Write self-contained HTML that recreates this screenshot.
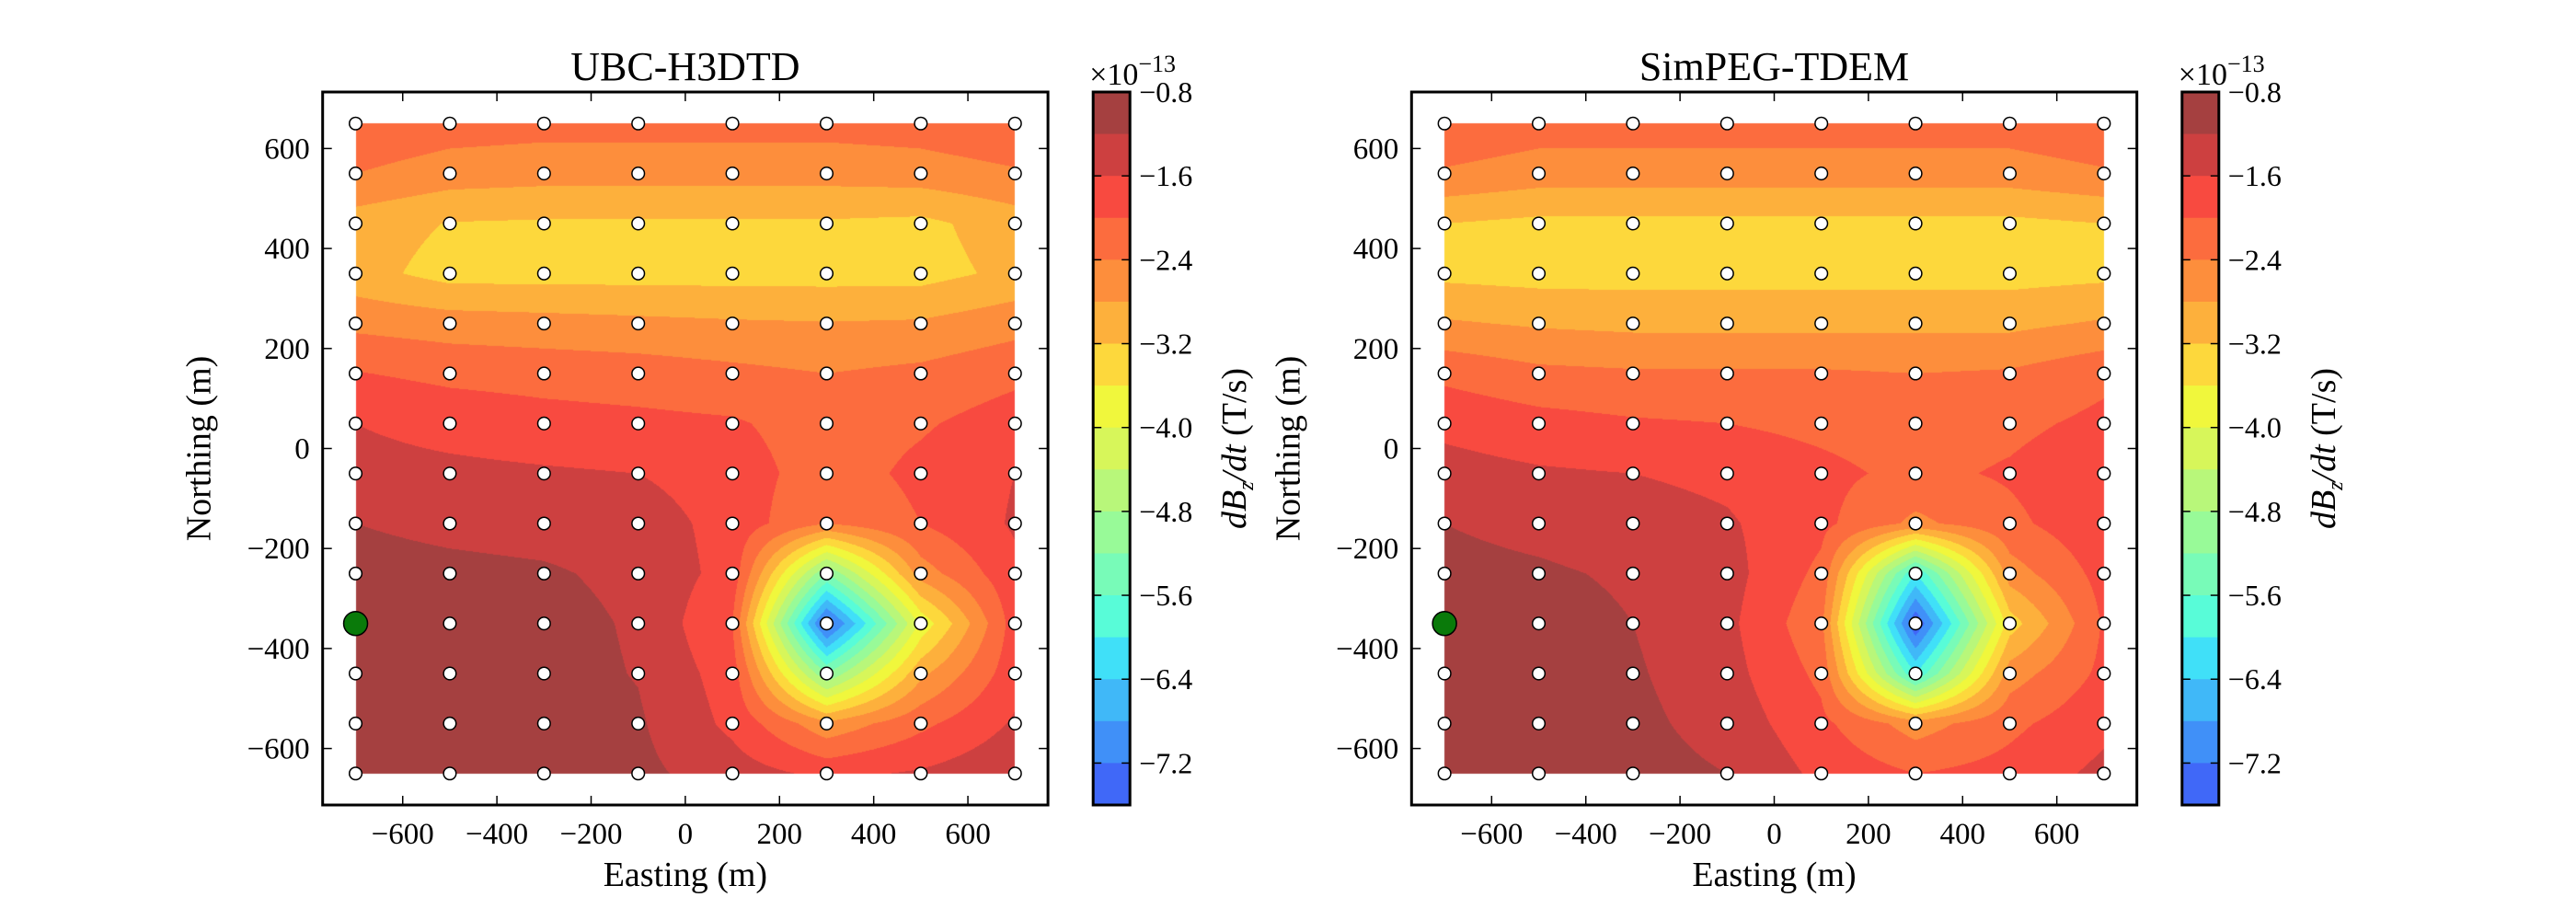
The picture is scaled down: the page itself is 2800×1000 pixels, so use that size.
<!DOCTYPE html>
<html><head><meta charset="utf-8"><style>
html,body{margin:0;padding:0;background:#fff;width:2800px;height:1000px;overflow:hidden}
#cv{position:absolute;left:0;top:0}
#ov{position:absolute;left:0;top:0}
text{font-family:"Liberation Serif",serif;fill:#000}
</style></head><body>
<canvas id="cv" width="2800" height="1000"></canvas>
<svg id="ov" width="2800" height="1000" xmlns="http://www.w3.org/2000/svg"></svg>
<script>
const xCats=[-700,-500,-300,-100,100,300,500,700];
const yCats=[650,550,450,350,250,150,50,-50,-150,-250,-350,-450,-550,-650];
const ubcValues=[
[-2.05,-2.2,-2.25,-2.25,-2.25,-2.25,-2.2,-2.05],
[-2.4,-2.6,-2.65,-2.65,-2.65,-2.65,-2.6,-2.45],
[-3.0,-3.22,-3.25,-3.25,-3.25,-3.25,-3.3,-3.0],
[-3.05,-3.35,-3.35,-3.35,-3.35,-3.35,-3.35,-3.1],
[-2.5,-2.6,-2.65,-2.7,-2.75,-2.78,-2.75,-2.55],
[-1.98,-2.1,-2.15,-2.2,-2.3,-2.4,-2.3,-2.1],
[-1.6,-1.75,-1.85,-1.9,-1.95,-2.2,-2.05,-1.8],
[-1.45,-1.5,-1.55,-1.6,-1.8,-2.2,-1.9,-1.6],
[-1.2,-1.3,-1.35,-1.4,-1.75,-2.4,-2.0,-1.55],
[-1.05,-1.1,-1.15,-1.3,-1.75,-5.2,-2.6,-1.7],
[-1.0,-1.0,-1.05,-1.25,-2.0,-7.5,-3.9,-1.8],
[-1.0,-1.0,-1.05,-1.22,-1.8,-5.2,-2.9,-1.75],
[-0.95,-0.98,-1.0,-1.15,-1.7,-2.7,-2.1,-1.55],
[-0.95,-0.98,-1.0,-1.1,-1.4,-1.7,-1.55,-1.3]];
const simpegValues=[
[-2.05,-2.2,-2.2,-2.2,-2.2,-2.2,-2.2,-2.05],
[-2.45,-2.6,-2.6,-2.6,-2.6,-2.6,-2.6,-2.45],
[-3.2,-3.3,-3.3,-3.3,-3.3,-3.3,-3.3,-3.2],
[-3.3,-3.35,-3.35,-3.35,-3.35,-3.35,-3.35,-3.3],
[-2.75,-2.85,-2.9,-2.9,-2.9,-2.9,-2.9,-2.75],
[-2.1,-2.3,-2.35,-2.35,-2.35,-2.4,-2.35,-2.1],
[-1.7,-1.85,-1.95,-2.0,-2.1,-2.2,-2.1,-1.9],
[-1.45,-1.55,-1.6,-1.7,-1.9,-2.1,-1.95,-1.7],
[-1.2,-1.3,-1.4,-1.55,-1.9,-2.5,-2.1,-1.7],
[-1.1,-1.15,-1.25,-1.45,-2.1,-6.0,-2.6,-1.85],
[-1.0,-1.05,-1.2,-1.5,-2.3,-7.6,-3.4,-1.95],
[-1.0,-1.05,-1.15,-1.45,-2.1,-6.0,-2.6,-1.9],
[-0.98,-1.02,-1.1,-1.35,-1.9,-2.6,-2.1,-1.7],
[-0.95,-1.0,-1.05,-1.2,-1.7,-2.0,-1.85,-1.5]];
const levels=[-0.8,-1.2,-1.6,-2.0,-2.4,-2.8,-3.2,-3.6,-4.0,-4.4,-4.8,-5.2,-5.6,-6.0,-6.4,-6.8,-7.2,-7.6];
const bandColors=["#a54040","#cd4040","#f84a40","#fc6c3e","#fd8e3c","#fdb03c","#fdd83c","#f0f73c","#d7f65a","#b8f77a","#98fa98","#78fbb8","#58fcd8","#40e0f8","#40b8f8","#4090f8","#4068f8"];
const xTicks=[-600,-400,-200,0,200,400,600];
const yTicks=[600,400,200,0,-200,-400,-600];
const cbTicks=[-0.8,-1.6,-2.4,-3.2,-4.0,-4.8,-5.6,-6.4,-7.2];
const txSrc=[-700], tySrc=[-350];
const panels=[{title:"UBC-H3DTD",vals:ubcValues,x0:350.7,name:"ubc"},{title:"SimPEG-TDEM",vals:simpegValues,x0:1534.3,name:"simpeg"}];

const NS="http://www.w3.org/2000/svg";
const svg=document.getElementById('ov');
const ctx=document.getElementById('cv').getContext('2d');
const TOP=100,H=775,W=788.4,XMIN=-770,XMAX=770,YMIN=-713,YMAX=713;
function mk(tag,attrs,parent){const e=document.createElementNS(NS,tag);for(const k in attrs)e.setAttribute(k,attrs[k]);(parent||svg).appendChild(e);return e;}
function fmt(v){const s=v===0?"0":String(Math.abs(v));return v<0?"\u2212"+s:s;}
function fmt1(v){const s=Math.abs(v).toFixed(1);return v<0?"\u2212"+s:s;}
function hex(c){return [parseInt(c.slice(1,3),16),parseInt(c.slice(3,5),16),parseInt(c.slice(5,7),16)];}
const rgb=bandColors.map(hex);
function interp(vals,x,y){
  let i=0;while(i<xCats.length-2&&x>xCats[i+1])i++;
  let j=0;while(j<yCats.length-2&&y<yCats[j+1])j++;
  const tx=(x-xCats[i])/(xCats[i+1]-xCats[i]),ty=(y-yCats[j])/(yCats[j+1]-yCats[j]);
  const a=vals[j][i],b=vals[j][i+1],c=vals[j+1][i],d=vals[j+1][i+1];
  return a*(1-tx)*(1-ty)+b*tx*(1-ty)+c*(1-tx)*ty+d*tx*ty;
}
panels.forEach((p,pi)=>{
  const xs=v=>p.x0+(v-XMIN)/(XMAX-XMIN)*W;
  const ys=v=>TOP+(YMAX-v)/(YMAX-YMIN)*H;
  const xinv=px=>XMIN+(px-p.x0)/W*(XMAX-XMIN);
  const yinv=py=>YMAX-(py-TOP)/H*(YMAX-YMIN);
  const px0=Math.round(xs(xCats[0])),px1=Math.round(xs(xCats[xCats.length-1]));
  const py0=Math.round(ys(yCats[0])),py1=Math.round(ys(yCats[yCats.length-1]));
  const w=px1-px0,h=py1-py0;
  const img=ctx.createImageData(w,h);
  for(let yy=0;yy<h;yy++){const dy=yinv(py0+yy+0.5);
    for(let xx=0;xx<w;xx++){const dx=xinv(px0+xx+0.5);
      const v=interp(p.vals,dx,dy);
      let k=-1;for(let b=0;b<bandColors.length;b++){if(v<=levels[b]&&v>=levels[b+1]){k=b;break;}}
      const o=(yy*w+xx)*4;
      if(k<0){img.data[o+3]=0;continue;}
      img.data[o]=rgb[k][0];img.data[o+1]=rgb[k][1];img.data[o+2]=rgb[k][2];img.data[o+3]=255;}}
  ctx.putImageData(img,px0,py0);
  const g=mk('g',{});
  
  
  const fr=mk('rect',{x:p.x0,y:TOP,width:W,height:H,fill:'none',stroke:'#000','stroke-width':3},g);
  
  
  xTicks.forEach(t=>{const x=xs(t);
    mk('line',{x1:x,x2:x,y1:TOP,y2:TOP+10,stroke:'#000','stroke-width':1.5},g);
    mk('line',{x1:x,x2:x,y1:TOP+H,y2:TOP+H-10,stroke:'#000','stroke-width':1.5},g);
    const tl=mk('text',{x:x,y:917,'font-size':33,'text-anchor':'middle'},g);tl.textContent=fmt(t);
    
    });
  yTicks.forEach(t=>{const y=ys(t);
    mk('line',{x1:p.x0,x2:p.x0+10,y1:y,y2:y,stroke:'#000','stroke-width':1.5},g);
    mk('line',{x1:p.x0+W,x2:p.x0+W-10,y1:y,y2:y,stroke:'#000','stroke-width':1.5},g);
    const tl=mk('text',{x:p.x0-14,y:y+11,'font-size':33,'text-anchor':'end'},g);tl.textContent=fmt(t);
    
    });
  yCats.forEach(yv=>xCats.forEach(xv=>{
    const c=mk('circle',{cx:xs(xv),cy:ys(yv),r:6.8,fill:'#fff',stroke:'#000','stroke-width':1.5},g);
    
    }));
  txSrc.forEach((sx,i)=>{const c=mk('circle',{cx:xs(sx),cy:ys(tySrc[i]),r:13,fill:'#0a7a0a',stroke:'#000','stroke-width':1.5},g);
    
    });
  const t=mk('text',{x:p.x0+W/2,y:87,'font-size':44,'text-anchor':'middle'},g);t.textContent=p.title;
  
  
  const xl=mk('text',{x:p.x0+W/2,y:963,'font-size':38,'text-anchor':'middle'},g);xl.textContent="Easting (m)";
  
  
  const yl=mk('text',{x:0,y:0,'font-size':38,'text-anchor':'middle',transform:`translate(${p.x0-122},${TOP+H/2}) rotate(-90)`},g);yl.textContent="Northing (m)";
  
  
  const cx0=p.x0+837.5,cw=40;
  const cb=v=>TOP+(levels[0]-v)/(levels[0]-levels[levels.length-1])*H;
  bandColors.forEach((col,k)=>{const r=mk('rect',{x:cx0,y:cb(levels[k]),width:cw,height:cb(levels[k+1])-cb(levels[k])+0.5,fill:col},g);
    
    });
  const cf=mk('rect',{x:cx0,y:TOP,width:cw,height:H,fill:'none',stroke:'#000','stroke-width':3},g);
  
  
  cbTicks.forEach(v=>{const y=cb(v);
    mk('line',{x1:cx0,x2:cx0+9,y1:y,y2:y,stroke:'#000','stroke-width':1.5},g);
    mk('line',{x1:cx0+cw,x2:cx0+cw-9,y1:y,y2:y,stroke:'#000','stroke-width':1.5},g);
    const tl=mk('text',{x:cx0+50,y:y+11,'font-size':32},g);tl.textContent=fmt1(v);
    
    });
  const ex=mk('text',{x:cx0-4,y:92,'font-size':34},g);
  ex.innerHTML='\u00d710<tspan dy="-14" font-size="26">\u221213</tspan>';
  
  
  const cl=mk('text',{x:0,y:0,'font-size':38,'text-anchor':'middle',transform:`translate(${cx0+166},${TOP+H/2}) rotate(-90)`},g);
  cl.innerHTML='<tspan font-style="italic">dB</tspan><tspan font-style="italic" font-size="24" dy="8">z</tspan><tspan dy="-8" font-style="italic">/dt</tspan> (T/s)';
  
  
});
</script>
</body></html>
